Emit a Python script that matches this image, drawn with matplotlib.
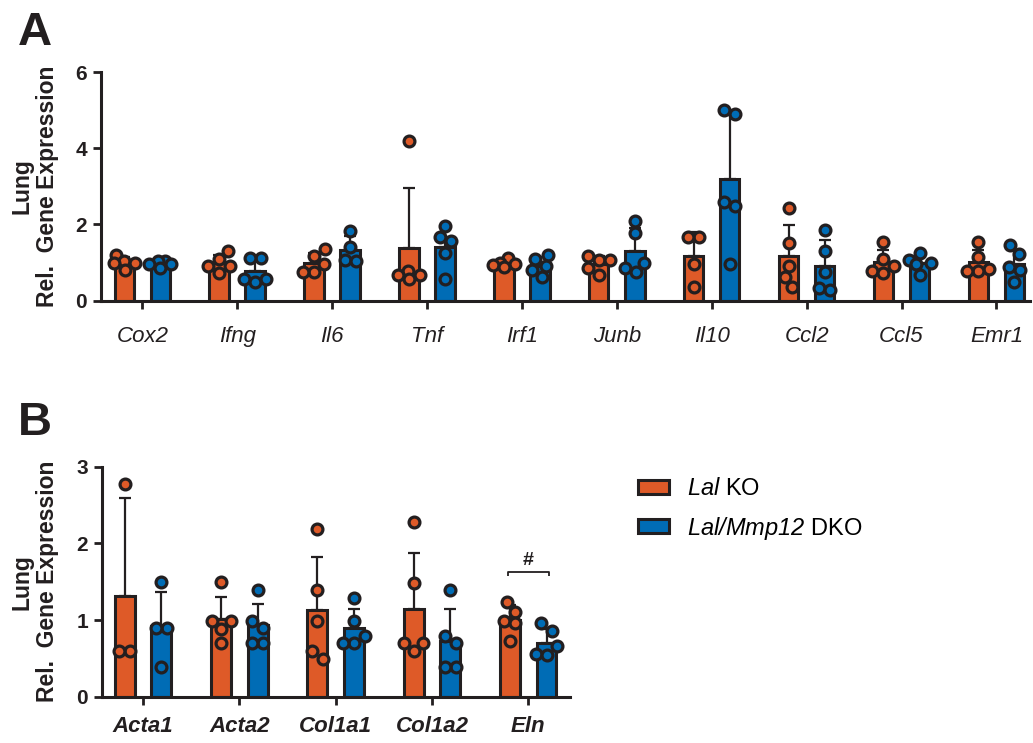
import matplotlib
matplotlib.use("Agg")
import matplotlib.pyplot as plt
import numpy as np
from matplotlib.patches import Patch

plt.rcParams['font.family'] = ['Liberation Sans', 'DejaVu Sans']
plt.rcParams['mathtext.fontset'] = 'custom'
plt.rcParams['mathtext.sf'] = 'Liberation Sans:italic'
plt.rcParams['mathtext.rm'] = 'Liberation Sans'

# ---------------- data ----------------
genes_A = ["Cox2", "Ifng", "Il6", "Tnf", "Irf1", "Junb", "Il10", "Ccl2", "Ccl5", "Emr1"]
ko_mean_A = [1.00, 0.99, 0.99, 1.38, 0.98, 0.97, 1.17, 1.17, 1.01, 1.01]
ko_sd_A = [0.14, 0.22, 0.26, 1.57, 0.09, 0.20, 0.63, 0.82, 0.32, 0.32]
dko_mean_A = [0.97, 0.78, 1.34, 1.41, 0.92, 1.30, 3.18, 0.91, 0.99, 0.97]
dko_sd_A = [0.08, 0.31, 0.36, 0.53, 0.23, 0.60, 1.73, 0.67, 0.21, 0.37]
ko_pts_A = [
    [1.20, 1.05, 1.00, 0.98, 0.80],
    [1.31, 1.09, 0.92, 0.91, 0.72],
    [1.35, 1.16, 0.96, 0.75, 0.75],
    [4.19, 0.78, 0.68, 0.68, 0.56],
    [1.13, 1.00, 0.97, 0.94, 0.88],
    [1.18, 1.07, 1.07, 0.86, 0.67],
    [1.68, 1.68, 0.96, 0.36],
    [2.43, 1.51, 0.92, 0.63, 0.37],
    [1.53, 1.10, 0.91, 0.79, 0.72],
    [1.53, 1.14, 0.82, 0.79, 0.79],
]
dko_pts_A = [
    [1.05, 1.03, 0.97, 0.95, 0.85],
    [1.12, 1.12, 0.58, 0.58, 0.48],
    [1.82, 1.42, 1.07, 1.03],
    [1.97, 1.67, 1.57, 1.26, 0.57],
    [1.20, 1.09, 0.90, 0.81, 0.61],
    [2.09, 1.78, 1.00, 0.86, 0.76],
    [4.99, 4.90, 2.58, 2.48, 0.96],
    [1.86, 1.30, 0.75, 0.34, 0.28],
    [1.25, 1.07, 0.99, 0.96, 0.68],
    [1.45, 1.22, 0.89, 0.81, 0.50],
]

genes_B = ["Acta1", "Acta2", "Col1a1", "Col1a2", "Eln"]
ko_mean_B = [1.32, 1.01, 1.13, 1.15, 1.00]
ko_sd_B = [1.27, 0.29, 0.69, 0.72, 0.19]
dko_mean_B = [0.92, 0.93, 0.89, 0.73, 0.70]
dko_sd_B = [0.45, 0.28, 0.25, 0.41, 0.18]
ko_pts_B = [
    [2.78, 0.59, 0.59],
    [1.49, 0.99, 0.99, 0.88, 0.70],
    [2.19, 1.39, 0.99, 0.59, 0.49],
    [2.28, 1.48, 0.70, 0.70, 0.59],
    [1.23, 1.11, 0.99, 0.96, 0.73],
]
dko_pts_B = [
    [1.49, 0.89, 0.89, 0.39],
    [1.39, 0.99, 0.89, 0.70, 0.70],
    [1.29, 0.99, 0.79, 0.70, 0.70],
    [1.39, 0.79, 0.70, 0.39, 0.39],
    [0.96, 0.86, 0.66, 0.56, 0.55],
]

group_labels = [r"$\mathsf{Lal}$ KO", r"$\mathsf{Lal/Mmp12}$ DKO"]

# ---------------- style ----------------
ORANGE = "#DE5A28"
BLUE = "#006CB5"
EDGE = "#231F20"
W, H = 1033, 743

fig = plt.figure(figsize=(W / 100, H / 100), dpi=100)
axA = fig.add_axes([101 / W, 1 - 300.7 / H, 929 / W, 228.7 / H])
axB = fig.add_axes([102 / W, 1 - 696.7 / H, 468 / W, 230 / H])


def swarm_offsets(vals, px_x, px_y, hx=14.5, hy=11.0, maxx=11.0):
    vals = np.asarray(vals, float)
    order = np.argsort(vals, kind="stable")
    xs = np.zeros(len(vals))
    placed = []
    cands = sorted(np.arange(-maxx, maxx + 1e-9, 0.5), key=lambda c: (abs(c), c > 0))
    for i in order:
        y = vals[i] * px_y
        best = None
        for c in cands:
            ov = 0.0
            for (px, py) in placed:
                d = np.hypot((c - px) / hx, (y - py) / hy)
                ov = max(ov, 1 - d)
            key = (round(ov, 2), abs(c))
            if best is None or key < best[0]:
                best = (key, c)
        xs[i] = best[1]
        placed.append((best[1], y))
    ys = vals * px_y
    idx = np.argsort(ys)
    clusters, cur = [], [idx[0]]
    for a, b in zip(idx[:-1], idx[1:]):
        if ys[b] - ys[a] < hy:
            cur.append(b)
        else:
            clusters.append(cur)
            cur = [b]
    clusters.append(cur)
    for cl in clusters:
        cl = np.array(cl)
        xs[cl] -= (xs[cl].max() + xs[cl].min()) / 2
    return xs / px_x


def draw_panel(ax, genes, kom, kosd, kop, dkm, dksd, dkp, xlim, ylim, yticks, bold_x, xpad):
    x = np.arange(len(genes))
    ax.set_xlim(*xlim)
    ax.set_ylim(*ylim)
    pos = ax.get_position()
    px_x = pos.width * W / (xlim[1] - xlim[0])
    px_y = pos.height * H / (ylim[1] - ylim[0])
    off, w = 0.19, 0.205
    for means, sds, pts, color, sgn in [(kom, kosd, kop, ORANGE, -1), (dkm, dksd, dkp, BLUE, 1)]:
        xc = x + sgn * off
        ax.bar(xc, means, width=w, color=color, edgecolor=EDGE, linewidth=2.2, zorder=2)
        ax.errorbar(xc, means, yerr=[np.zeros(len(means)), sds], fmt="none", ecolor=EDGE,
                    elinewidth=1.6, capsize=4.5, capthick=1.6, zorder=3)
        for i, p in enumerate(pts):
            jit = swarm_offsets(p, px_x, px_y)
            ax.plot(xc[i] + jit, p, "o", ms=7.8, mfc=color, mec=EDGE, mew=2.3,
                    zorder=4, clip_on=False)
    for s in ["top", "right"]:
        ax.spines[s].set_visible(False)
    for s in ["left", "bottom"]:
        ax.spines[s].set_linewidth(2.2)
        ax.spines[s].set_color(EDGE)
    ax.set_yticks(yticks)
    ax.set_yticklabels([str(t) for t in yticks], fontsize=15, fontweight="bold", color=EDGE)
    ax.set_xticks(x)
    ax.set_xticklabels(genes, fontsize=16, fontstyle="italic",
                       fontweight="bold" if bold_x else "normal", color=EDGE)
    ax.tick_params(axis="y", direction="out", length=6, width=2, color=EDGE, pad=4)
    ax.tick_params(axis="x", direction="out", length=6, width=2, color=EDGE, pad=xpad)


draw_panel(axA, genes_A, ko_mean_A, ko_sd_A, ko_pts_A, dko_mean_A, dko_sd_A, dko_pts_A,
           (-0.435, 9.354), (0, 6), [0, 2, 4, 6], False, 12)
draw_panel(axB, genes_B, ko_mean_B, ko_sd_B, ko_pts_B, dko_mean_B, dko_sd_B, dko_pts_B,
           (-0.426, 4.433), (0, 3), [0, 1, 2, 3], True, 8)

# significance bracket on Eln
axB.plot([4 - 0.215, 4 - 0.215, 4 + 0.215, 4 + 0.215], [1.575, 1.63, 1.63, 1.575],
         color=EDGE, lw=1.3, zorder=5, solid_capstyle="butt")
axB.text(4, 1.665, "#", ha="center", va="bottom", fontsize=14, fontweight="bold", color=EDGE)

# y labels
for ax in (axA, axB):
    pos = ax.get_position()
    yc = pos.y0 + pos.height / 2
    fig.text(22 / W, yc, "Lung", rotation=90, ha="center", va="center",
             fontsize=16.5, fontweight="bold", color=EDGE)
    fig.text(48 / W, yc, "Rel.  Gene Expression", rotation=90, ha="center", va="center",
             fontsize=16.5, fontweight="bold", color=EDGE)

# panel letters
fig.text(18 / W, 1 - 45 / H, "A", fontsize=34, fontweight="bold", va="baseline", color=EDGE)
fig.text(18 / W, 1 - 435 / H, "B", fontsize=34, fontweight="bold", va="baseline", color=EDGE)

# legend
handles = [Patch(facecolor=ORANGE, edgecolor=EDGE, linewidth=2.2),
           Patch(facecolor=BLUE, edgecolor=EDGE, linewidth=2.2)]
fig.legend(handles, group_labels, loc="upper left", bbox_to_anchor=(638 / W, 1 - 478 / H),
           frameon=False, fontsize=17, handlelength=1.31, handleheight=0.55,
           handletextpad=0.75, labelspacing=0.62, borderaxespad=0, borderpad=0)

fig.savefig("out.png", dpi=100)
